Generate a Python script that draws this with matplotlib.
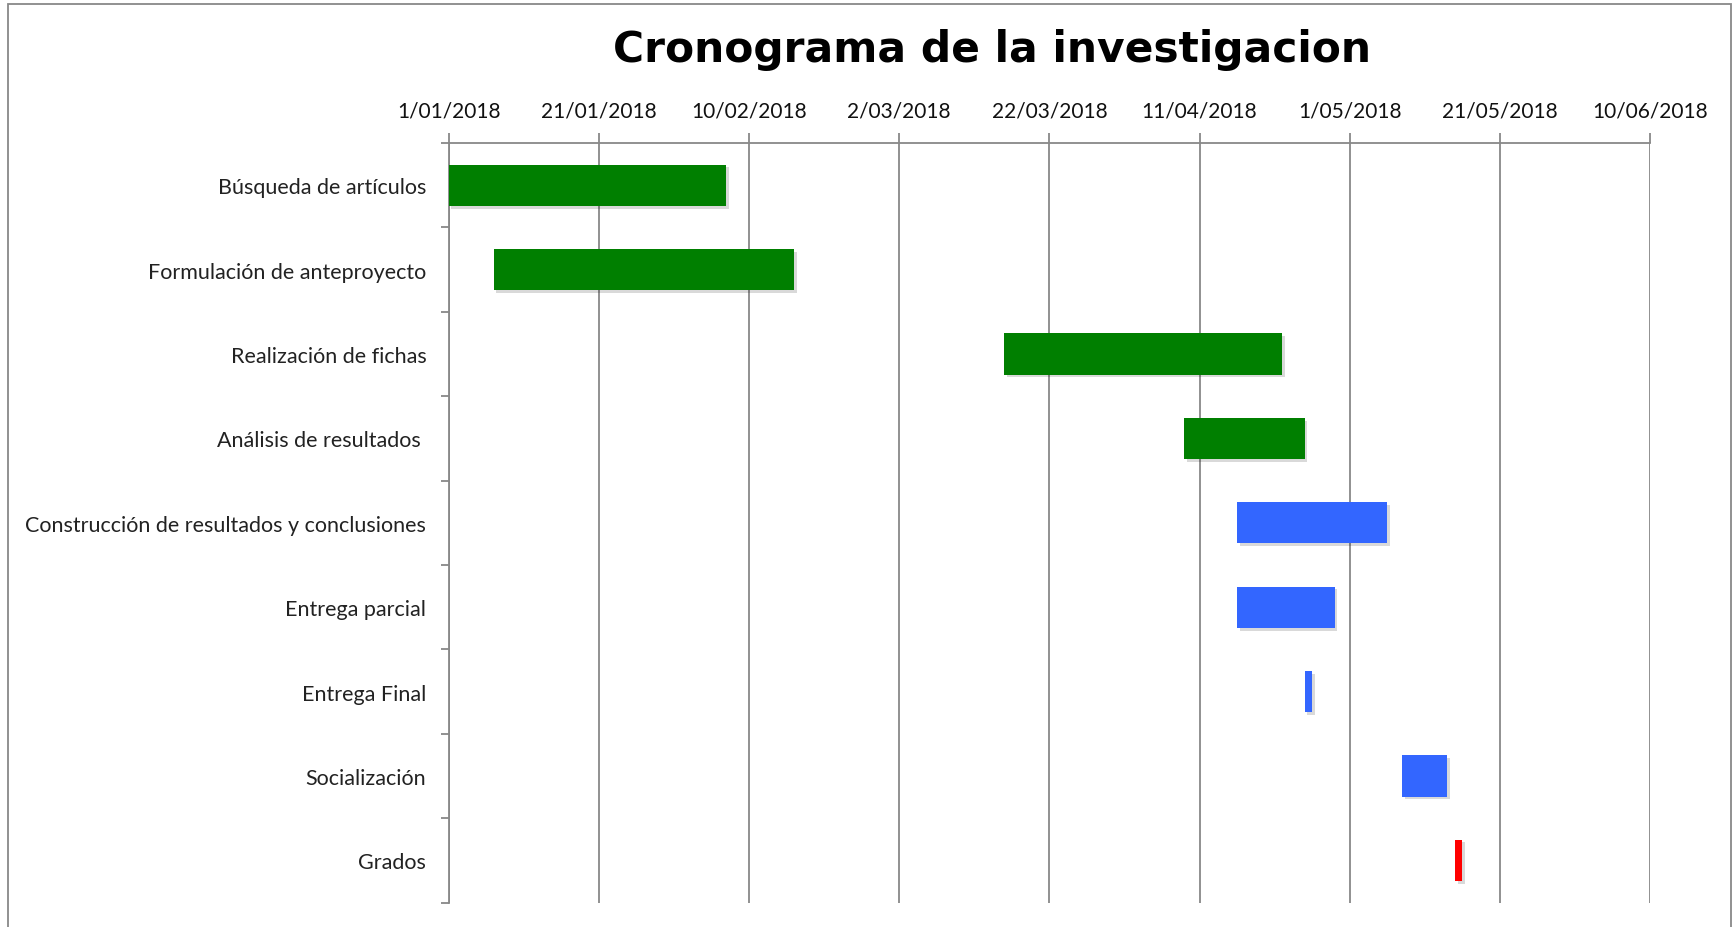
import datetime as dt
import matplotlib
matplotlib.use('Agg')
import matplotlib.pyplot as plt
import matplotlib.dates as mdates
import matplotlib.patheffects as pe
from matplotlib.patches import Rectangle

tareas = ['Búsqueda de artículos', 'Formulación de anteproyecto', 'Realización de fichas',
          'Análisis de resultados ', 'Construcción de resultados y conclusiones',
          'Entrega parcial', 'Entrega Final', 'Socialización', 'Grados']
inicio = ['2018-01-01', '2018-01-07', '2018-03-16', '2018-04-09', '2018-04-16',
          '2018-04-16', '2018-04-25', '2018-05-08', '2018-05-15']
duracion = [37, 40, 37, 16, 20, 13, 1, 6, 1]
colores = ['#007F00', '#007F00', '#007F00', '#007F00', '#3366FF',
           '#3366FF', '#3366FF', '#3366FF', '#FF0000']

fechas_ticks = [dt.date(2018, 1, 1) + dt.timedelta(days=20 * i) for i in range(9)]

plt.rcParams['font.family'] = ['Lato', 'DejaVu Sans']

fig = plt.figure(figsize=(17.32, 9.28), dpi=100)
ax = fig.add_axes([0.259, 0.0263, 0.6937, 0.8185])

x0 = mdates.date2num([dt.datetime.strptime(s, '%Y-%m-%d') for s in inicio])
sombra = [pe.SimplePatchShadow(offset=(2, -2), shadow_rgbFace='#000000', alpha=0.15), pe.Normal()]
for i in range(len(tareas)):
    b = ax.barh(i, duracion[i], left=x0[i], height=0.49, color=colores[i], zorder=3)
    for p in b:
        p.set_path_effects(sombra)

ax.set_ylim(len(tareas) - 0.5, -0.5)
ax.set_yticks(range(len(tareas)))
ax.set_yticklabels(tareas, fontsize=15.5, color='#222222')
ax.set_yticks([i - 0.5 for i in range(len(tareas) + 1)], minor=True)
ax.tick_params(axis='y', which='major', length=0, pad=16)
ax.tick_params(axis='y', which='minor', length=6, width=1.3, color='#888888')

ax.set_xlim(mdates.date2num(fechas_ticks[0]), mdates.date2num(fechas_ticks[-1]))
ax.set_xticks(mdates.date2num(fechas_ticks))
ax.set_xticklabels(['%d/%02d/%d' % (d.day, d.month, d.year) for d in fechas_ticks],
                   fontsize=15, color='#111111')
ax.xaxis.tick_top()
ax.tick_params(axis='x', which='major', length=7, width=1.3, color='#888888', pad=9)
ax.grid(axis='x', color='#888888', linewidth=1.3, zorder=0)

for s in ['right', 'bottom']:
    ax.spines[s].set_visible(False)
for s in ['left', 'top']:
    ax.spines[s].set_color('#888888')
    ax.spines[s].set_linewidth(1.3)

fig.text(0.573, 0.946, 'Cronograma de la investigacion', ha='center', va='center',
         fontsize=30.5, fontweight='bold', family='DejaVu Sans')

fig.patches.append(Rectangle((0.0046, -0.1), 0.995, 1.0946, transform=fig.transFigure,
                             fill=False, edgecolor='#888888', linewidth=1.3))

fig.savefig('out.png', dpi=100)
